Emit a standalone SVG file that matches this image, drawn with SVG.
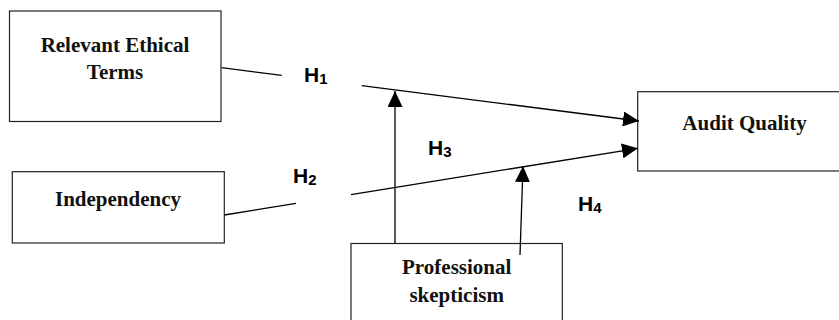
<svg xmlns="http://www.w3.org/2000/svg" width="839" height="320" viewBox="0 0 839 320">
<style>
.box{fill:#fff;stroke:#222;stroke-width:1.2}
.lbl{font-family:"Liberation Serif","Times New Roman",serif;font-weight:bold;font-size:21px;fill:#111;text-anchor:middle}
.h{font-family:"Liberation Sans",Arial,sans-serif;font-weight:bold;font-size:21px;fill:#000}
.h tspan{font-size:15px}
.ln{stroke:#000;stroke-width:1.3;fill:none}
</style>
<defs>
<marker id="arr" markerUnits="userSpaceOnUse" markerWidth="16" markerHeight="15" refX="16" refY="7.5" orient="auto">
<path d="M0,0 L16,7.5 L0,15 z" fill="#000"/>
</marker>
</defs>
<rect width="839" height="320" fill="#fff"/>
<g id="node-ethical">
<rect class="box" x="9.5" y="11" width="211.5" height="110.5"/>
<text class="lbl" x="115" y="51.7">Relevant Ethical</text>
<text class="lbl" x="115" y="79">Terms</text>
</g>
<g id="node-independency">
<rect class="box" x="12.3" y="171.7" width="212" height="71.3"/>
<text class="lbl" x="118" y="206">Independency</text>
</g>
<g id="node-audit">
<rect class="box" x="637.7" y="91.7" width="220" height="79.3"/>
<text class="lbl" x="744.5" y="130">Audit Quality</text>
</g>
<g id="node-skepticism">
<rect class="box" x="351" y="243.5" width="211.3" height="100"/>
<text class="lbl" x="456.7" y="274">Professional</text>
<text class="lbl" x="456.7" y="301.7">skepticism</text>
</g>
<g id="connectors">
<line class="ln" x1="221.5" y1="67.7" x2="281.7" y2="75.4"/>
<line class="ln" x1="361.7" y1="85.6" x2="639" y2="121" marker-end="url(#arr)"/>
<line class="ln" x1="224.3" y1="215" x2="296" y2="203.4"/>
<line class="ln" x1="351" y1="194.6" x2="638" y2="148.3" marker-end="url(#arr)"/>
<line class="ln" x1="395" y1="243.5" x2="395" y2="91" marker-end="url(#arr)"/>
<line class="ln" x1="520" y1="255" x2="523" y2="166" marker-end="url(#arr)"/>
<text class="h" x="304" y="81.5">H<tspan dy="2">1</tspan></text>
<text class="h" x="293" y="183">H<tspan dy="2">2</tspan></text>
<text class="h" x="428" y="155">H<tspan dy="2">3</tspan></text>
<text class="h" x="578" y="211">H<tspan dy="2">4</tspan></text>
</g>
</svg>
